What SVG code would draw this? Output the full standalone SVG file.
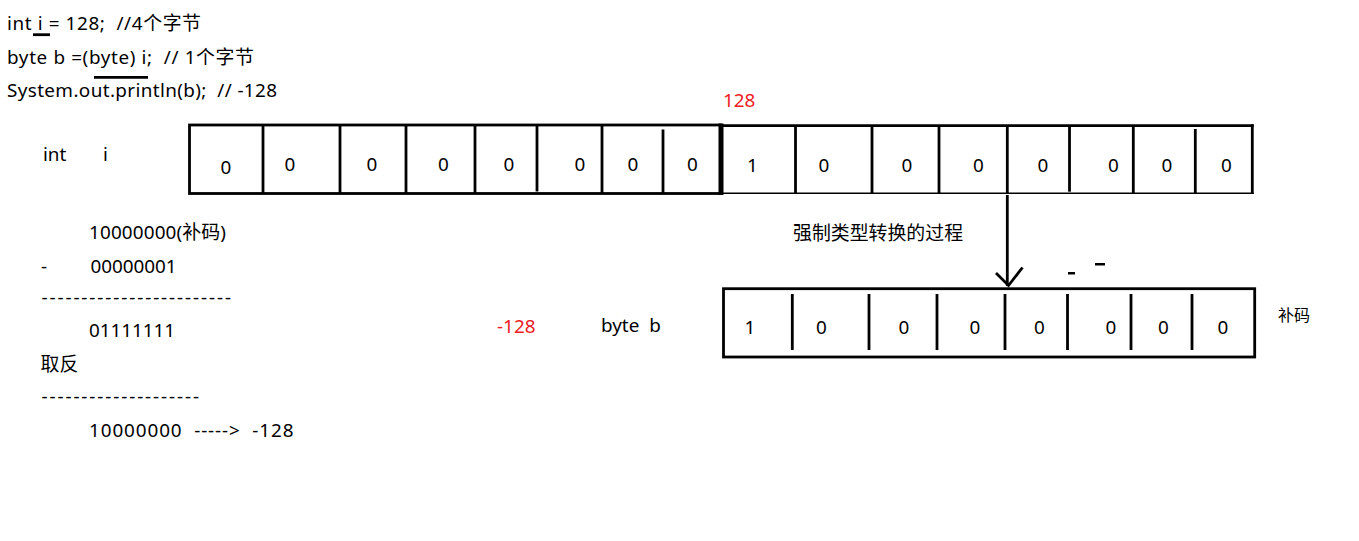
<svg xmlns="http://www.w3.org/2000/svg" width="1359" height="541" viewBox="0 0 1359 541">
<style>
text{font-family:"Noto Sans","Noto Sans CJK SC",sans-serif;font-size:18.9px;fill:#000;white-space:pre}
.red{fill:#ED1C24}
.d{text-anchor:middle}
.sm{font-size:16px}
.ln{stroke:#000;stroke-width:2.8;fill:none}
.thin{stroke:#000;stroke-width:1.6;fill:none}
</style>
<rect width="1359" height="541" fill="#fff"/>

<g id="code">
<text x="7" y="30" textLength="194" lengthAdjust="spacing">int i = 128;  //4个字节</text>
<text x="7" y="63.5" textLength="247" lengthAdjust="spacing">byte b =(byte) i;  // 1个字节</text>
<text x="7" y="96.5" textLength="270" lengthAdjust="spacing">System.out.println(b);  // -128</text>
<line class="ln" x1="33" y1="34.7" x2="50" y2="34.7"/>
<line class="ln" x1="94" y1="77.3" x2="148" y2="77.3"/>
</g>

<g id="int-label">
<text x="43" y="161">int</text>
<text x="103" y="161">i</text>
</g>

<g id="int-box-high">
<rect class="ln" x="189.5" y="125" width="531" height="68.5"/>
<line class="ln" x1="263" y1="125" x2="263" y2="193.5"/>
<line class="ln" x1="340" y1="125" x2="340" y2="193.5"/>
<line class="ln" x1="406" y1="125" x2="406" y2="193.5"/>
<line class="ln" x1="475" y1="125" x2="475" y2="193.5"/>
<line class="ln" x1="537" y1="125" x2="537" y2="191.5"/>
<line class="ln" x1="602" y1="125" x2="602" y2="193.5"/>
<line class="ln" x1="663" y1="129.5" x2="663" y2="193.5"/>
<text class="d" x="226" y="174">0</text>
<text class="d" x="290" y="170.5">0</text>
<text class="d" x="372" y="170.5">0</text>
<text class="d" x="443.5" y="170.5">0</text>
<text class="d" x="509" y="170.5">0</text>
<text class="d" x="580" y="170.5">0</text>
<text class="d" x="633" y="170.5">0</text>
<text class="d" x="692.5" y="170.5">0</text>
</g>

<g id="int-box-low">
<rect x="718.5" y="123.5" width="5" height="71.5" fill="#000"/>
<line class="ln" x1="720" y1="125.7" x2="1253.7" y2="125.7"/>
<line class="thin" x1="720" y1="193.3" x2="1253.7" y2="193.3"/>
<line class="ln" x1="1252.3" y1="124.3" x2="1252.3" y2="194"/>
<line class="ln" x1="795.5" y1="125.7" x2="795.5" y2="193.3"/>
<line class="ln" x1="872" y1="125.7" x2="872" y2="193.3"/>
<line class="ln" x1="939" y1="125.7" x2="939" y2="193.3"/>
<line class="ln" x1="1007.3" y1="125.7" x2="1007.3" y2="193.3"/>
<line class="ln" x1="1069.5" y1="125.7" x2="1069.5" y2="191.7"/>
<line class="ln" x1="1133.3" y1="125.7" x2="1133.3" y2="193.3"/>
<line class="ln" x1="1195.3" y1="129" x2="1195.3" y2="193.3"/>
<text class="d" x="752.5" y="172">1</text>
<text class="d" x="824" y="172">0</text>
<text class="d" x="907" y="172">0</text>
<text class="d" x="978.5" y="172">0</text>
<text class="d" x="1043" y="172">0</text>
<text class="d" x="1113.5" y="172">0</text>
<text class="d" x="1167" y="172">0</text>
<text class="d" x="1226.5" y="172">0</text>
</g>

<g id="value-128">
<text class="red" x="723" y="106.5">128</text>
</g>

<g id="cast-label">
<text x="793" y="240">强制类型转换的过程</text>
</g>

<g id="byte-label">
<text class="red" x="497" y="333">-128</text>
<text x="601" y="332">byte  b</text>
</g>

<g id="byte-box">
<rect class="ln" x="723.5" y="288.7" width="531.2" height="68.3"/>
<line class="ln" x1="792.3" y1="294" x2="792.3" y2="350"/>
<line class="ln" x1="869" y1="294" x2="869" y2="350"/>
<line class="ln" x1="937" y1="294" x2="937" y2="350"/>
<line class="ln" x1="1005" y1="294" x2="1005" y2="350"/>
<line class="ln" x1="1067.5" y1="294" x2="1067.5" y2="350"/>
<line class="ln" x1="1131" y1="294" x2="1131" y2="350"/>
<line class="ln" x1="1192" y1="294" x2="1192" y2="350"/>
<text class="d" x="750" y="334">1</text>
<text class="d" x="821.5" y="334">0</text>
<text class="d" x="904" y="334">0</text>
<text class="d" x="975" y="334">0</text>
<text class="d" x="1039.5" y="334">0</text>
<text class="d" x="1111" y="334">0</text>
<text class="d" x="1163.5" y="334">0</text>
<text class="d" x="1223" y="334">0</text>
</g>

<g id="complement-label">
<text class="sm" x="1278" y="321">补码</text>
</g>

<g id="connectors">
<line class="ln" x1="1007.3" y1="195" x2="1007.3" y2="286"/>
<polyline class="ln" points="996,273 1008.5,285.5 1022.5,267.5"/>
</g>

<g id="marks">
<rect x="1068" y="272" width="7" height="2.5" fill="#000"/>
<rect x="1095" y="263" width="10" height="2.5" fill="#000"/>
</g>

<g id="calc">
<text x="89" y="238.5" textLength="137" lengthAdjust="spacing">10000000(补码)</text>
<text x="41" y="272.5">-</text>
<text x="90.5" y="272.5" textLength="86" lengthAdjust="spacing">00000001</text>
<text x="41.5" y="303.5" textLength="189.5" lengthAdjust="spacing">------------------------</text>
<text x="89" y="336.5" textLength="86" lengthAdjust="spacing">01111111</text>
<text x="40.5" y="370.5">取反</text>
<text x="41.5" y="402.5" textLength="157.5" lengthAdjust="spacing">--------------------</text>
<text x="89" y="436.5" textLength="204.5" lengthAdjust="spacing">10000000  ----->  -128</text>
</g>
</svg>
